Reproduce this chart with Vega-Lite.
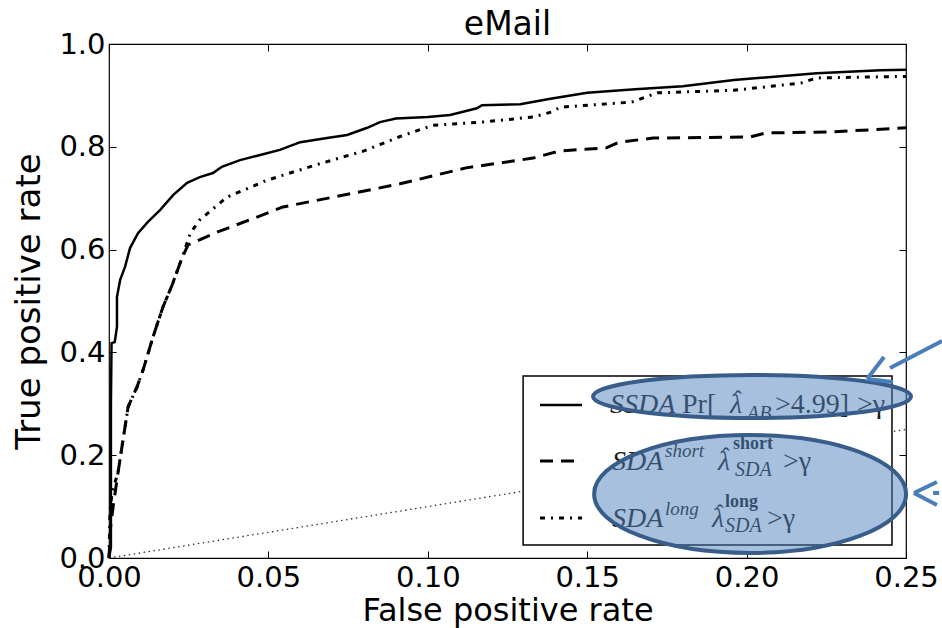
{
  "$schema": "https://vega.github.io/schema/vega-lite/v6.json",
  "width": 797,
  "height": 514,
  "autosize": "none",
  "padding": {"left": 109, "top": 44, "right": 36, "bottom": 70},
  "background": "white",
  "title": {"text": "eMail", "font": "DejaVu Sans", "fontSize": 33, "fontWeight": "normal", "color": "black", "offset": -12},
  "config": {
    "view": {"stroke": "black", "strokeWidth": 1.2},
    "axis": {
      "labelFont": "DejaVu Sans", "labelFontSize": 29, "labelColor": "black",
      "titleFont": "DejaVu Sans", "titleFontSize": 32, "titleFontWeight": "normal", "titleColor": "black",
      "grid": false, "domain": false, "tickColor": "black", "tickSize": -7, "tickWidth": 1
    }
  },
  "resolve": {"axis": {"x": "independent", "y": "independent"}},
  "datasets": {
    "roc": [
      {"series": "chance", "fpr": 0, "tpr": 0},
      {"series": "chance", "fpr": 0.25, "tpr": 0.25},
      {"series": "ssda", "fpr": 0, "tpr": 0},
      {"series": "ssda", "fpr": 0.0006, "tpr": 0.02},
      {"series": "ssda", "fpr": 0.0006, "tpr": 0.30},
      {"series": "ssda", "fpr": 0.0008, "tpr": 0.418},
      {"series": "ssda", "fpr": 0.0018, "tpr": 0.42},
      {"series": "ssda", "fpr": 0.0025, "tpr": 0.45},
      {"series": "ssda", "fpr": 0.0025, "tpr": 0.508},
      {"series": "ssda", "fpr": 0.0035, "tpr": 0.541},
      {"series": "ssda", "fpr": 0.005, "tpr": 0.566},
      {"series": "ssda", "fpr": 0.0066, "tpr": 0.603},
      {"series": "ssda", "fpr": 0.0091, "tpr": 0.632},
      {"series": "ssda", "fpr": 0.0122, "tpr": 0.654},
      {"series": "ssda", "fpr": 0.016, "tpr": 0.677},
      {"series": "ssda", "fpr": 0.0201, "tpr": 0.706},
      {"series": "ssda", "fpr": 0.0245, "tpr": 0.730},
      {"series": "ssda", "fpr": 0.0285, "tpr": 0.741},
      {"series": "ssda", "fpr": 0.0326, "tpr": 0.749},
      {"series": "ssda", "fpr": 0.0354, "tpr": 0.761},
      {"series": "ssda", "fpr": 0.0411, "tpr": 0.774},
      {"series": "ssda", "fpr": 0.0474, "tpr": 0.784},
      {"series": "ssda", "fpr": 0.0536, "tpr": 0.794},
      {"series": "ssda", "fpr": 0.060, "tpr": 0.809},
      {"series": "ssda", "fpr": 0.0684, "tpr": 0.817},
      {"series": "ssda", "fpr": 0.0747, "tpr": 0.823},
      {"series": "ssda", "fpr": 0.081, "tpr": 0.837},
      {"series": "ssda", "fpr": 0.085, "tpr": 0.848},
      {"series": "ssda", "fpr": 0.090, "tpr": 0.855},
      {"series": "ssda", "fpr": 0.100, "tpr": 0.858},
      {"series": "ssda", "fpr": 0.107, "tpr": 0.862},
      {"series": "ssda", "fpr": 0.1154, "tpr": 0.875},
      {"series": "ssda", "fpr": 0.117, "tpr": 0.881},
      {"series": "ssda", "fpr": 0.129, "tpr": 0.883},
      {"series": "ssda", "fpr": 0.138, "tpr": 0.893},
      {"series": "ssda", "fpr": 0.150, "tpr": 0.905},
      {"series": "ssda", "fpr": 0.165, "tpr": 0.912},
      {"series": "ssda", "fpr": 0.180, "tpr": 0.918},
      {"series": "ssda", "fpr": 0.196, "tpr": 0.930},
      {"series": "ssda", "fpr": 0.222, "tpr": 0.943},
      {"series": "ssda", "fpr": 0.242, "tpr": 0.949},
      {"series": "ssda", "fpr": 0.25, "tpr": 0.950},
      {"series": "short", "fpr": 0, "tpr": 0},
      {"series": "short", "fpr": 0.0005, "tpr": 0.06},
      {"series": "short", "fpr": 0.0013, "tpr": 0.10},
      {"series": "short", "fpr": 0.0028, "tpr": 0.165},
      {"series": "short", "fpr": 0.0044, "tpr": 0.23},
      {"series": "short", "fpr": 0.006, "tpr": 0.294},
      {"series": "short", "fpr": 0.0088, "tpr": 0.333},
      {"series": "short", "fpr": 0.0107, "tpr": 0.366},
      {"series": "short", "fpr": 0.0138, "tpr": 0.430},
      {"series": "short", "fpr": 0.0169, "tpr": 0.488},
      {"series": "short", "fpr": 0.0198, "tpr": 0.531},
      {"series": "short", "fpr": 0.0229, "tpr": 0.584},
      {"series": "short", "fpr": 0.0248, "tpr": 0.609},
      {"series": "short", "fpr": 0.0339, "tpr": 0.634},
      {"series": "short", "fpr": 0.0442, "tpr": 0.658},
      {"series": "short", "fpr": 0.0546, "tpr": 0.683},
      {"series": "short", "fpr": 0.0703, "tpr": 0.702},
      {"series": "short", "fpr": 0.0913, "tpr": 0.728},
      {"series": "short", "fpr": 0.112, "tpr": 0.759},
      {"series": "short", "fpr": 0.133, "tpr": 0.778},
      {"series": "short", "fpr": 0.1415, "tpr": 0.792},
      {"series": "short", "fpr": 0.156, "tpr": 0.798},
      {"series": "short", "fpr": 0.160, "tpr": 0.809},
      {"series": "short", "fpr": 0.1707, "tpr": 0.817},
      {"series": "short", "fpr": 0.201, "tpr": 0.819},
      {"series": "short", "fpr": 0.206, "tpr": 0.827},
      {"series": "short", "fpr": 0.227, "tpr": 0.829},
      {"series": "short", "fpr": 0.25, "tpr": 0.837},
      {"series": "long", "fpr": 0, "tpr": 0},
      {"series": "long", "fpr": 0.0003, "tpr": 0.09},
      {"series": "long", "fpr": 0.001, "tpr": 0.13},
      {"series": "long", "fpr": 0.0028, "tpr": 0.165},
      {"series": "long", "fpr": 0.0044, "tpr": 0.23},
      {"series": "long", "fpr": 0.006, "tpr": 0.294},
      {"series": "long", "fpr": 0.0088, "tpr": 0.333},
      {"series": "long", "fpr": 0.0107, "tpr": 0.366},
      {"series": "long", "fpr": 0.0138, "tpr": 0.430},
      {"series": "long", "fpr": 0.0169, "tpr": 0.488},
      {"series": "long", "fpr": 0.0198, "tpr": 0.531},
      {"series": "long", "fpr": 0.0229, "tpr": 0.584},
      {"series": "long", "fpr": 0.0255, "tpr": 0.632},
      {"series": "long", "fpr": 0.0285, "tpr": 0.658},
      {"series": "long", "fpr": 0.037, "tpr": 0.702},
      {"series": "long", "fpr": 0.0496, "tpr": 0.735},
      {"series": "long", "fpr": 0.065, "tpr": 0.765},
      {"series": "long", "fpr": 0.080, "tpr": 0.792},
      {"series": "long", "fpr": 0.0913, "tpr": 0.820},
      {"series": "long", "fpr": 0.1016, "tpr": 0.842},
      {"series": "long", "fpr": 0.117, "tpr": 0.848},
      {"series": "long", "fpr": 0.133, "tpr": 0.858},
      {"series": "long", "fpr": 0.139, "tpr": 0.868},
      {"series": "long", "fpr": 0.1415, "tpr": 0.877},
      {"series": "long", "fpr": 0.164, "tpr": 0.887},
      {"series": "long", "fpr": 0.172, "tpr": 0.905},
      {"series": "long", "fpr": 0.196, "tpr": 0.910},
      {"series": "long", "fpr": 0.217, "tpr": 0.924},
      {"series": "long", "fpr": 0.222, "tpr": 0.934},
      {"series": "long", "fpr": 0.25, "tpr": 0.937}
    ]
  },
  "data": {"name": "roc"},
  "layer": [
    {
      "transform": [{"filter": "datum.series === 'chance'"}],
      "mark": {"type": "line", "color": "#333", "strokeWidth": 1.3, "strokeDash": [1.5, 3.5]},
      "encoding": {
        "x": {"field": "fpr", "type": "quantitative", "scale": {"domain": [0, 0.25], "nice": false, "zero": false},
              "axis": {"orient": "bottom", "values": [0, 0.05, 0.1, 0.15, 0.2, 0.25], "format": ".2f", "labelPadding": 12, "title": "False positive rate", "titlePadding": 3, "labelFlush": false}},
        "y": {"field": "tpr", "type": "quantitative", "scale": {"domain": [0, 1], "nice": false, "zero": false},
              "axis": {"orient": "left", "values": [0, 0.2, 0.4, 0.6, 0.8, 1.0], "format": ".1f", "labelPadding": 11, "title": "True positive rate", "titleFontSize": 34, "titlePadding": 12, "labelFlush": false}}
      }
    },
    {
      "transform": [{"filter": "datum.series === 'ssda'"}],
      "mark": {"type": "line", "color": "black", "strokeWidth": 2.5},
      "encoding": {
        "x": {"field": "fpr", "type": "quantitative", "axis": {"orient": "top", "values": [0, 0.05, 0.1, 0.15, 0.2, 0.25], "labels": false, "title": null}},
        "y": {"field": "tpr", "type": "quantitative", "axis": {"orient": "right", "values": [0, 0.2, 0.4, 0.6, 0.8, 1.0], "labels": false, "title": null}}
      }
    },
    {
      "transform": [{"filter": "datum.series === 'short'"}],
      "mark": {"type": "line", "color": "black", "strokeWidth": 3, "strokeDash": [13, 8]},
      "encoding": {
        "x": {"field": "fpr", "type": "quantitative", "axis": null},
        "y": {"field": "tpr", "type": "quantitative", "axis": null}
      }
    },
    {
      "transform": [{"filter": "datum.series === 'long'"}],
      "mark": {"type": "line", "color": "black", "strokeWidth": 3, "strokeDash": [5, 6, 2, 6]},
      "encoding": {
        "x": {"field": "fpr", "type": "quantitative", "axis": null},
        "y": {"field": "tpr", "type": "quantitative", "axis": null}
      }
    },
    {
      "data": {"values": [{}]},
      "mark": {"type": "rect", "fill": "white", "stroke": "black", "strokeWidth": 1.5},
      "encoding": {
        "x": {"datum": 0.1299, "type": "quantitative", "axis": null}, "x2": {"datum": 0.2456},
        "y": {"datum": 0.354, "type": "quantitative", "axis": null}, "y2": {"datum": 0.0253}
      }
    },
    {
      "data": {"values": [{}]},
      "mark": {"type": "rule", "color": "black", "strokeWidth": 2.5},
      "encoding": {
        "x": {"datum": 0.1352, "type": "quantitative", "axis": null}, "x2": {"datum": 0.1484},
        "y": {"datum": 0.2977, "type": "quantitative", "axis": null}
      }
    },
    {
      "data": {"values": [{}]},
      "mark": {"type": "rule", "color": "black", "strokeWidth": 3, "strokeDash": [13, 8]},
      "encoding": {
        "x": {"datum": 0.1352, "type": "quantitative", "axis": null}, "x2": {"datum": 0.1484},
        "y": {"datum": 0.1887, "type": "quantitative", "axis": null}
      }
    },
    {
      "data": {"values": [{}]},
      "mark": {"type": "rule", "color": "black", "strokeWidth": 3, "strokeDash": [5, 6, 2, 6]},
      "encoding": {
        "x": {"datum": 0.1352, "type": "quantitative", "axis": null}, "x2": {"datum": 0.1484},
        "y": {"datum": 0.0778, "type": "quantitative", "axis": null}
      }
    },
    {"data": {"values": [{}]}, "mark": {"type": "text", "text": "SSDA", "font": "Liberation Serif", "fontStyle": "italic", "fontSize": 28, "align": "left", "baseline": "alphabetic", "color": "#1a1a1a"},
     "encoding": {"x": {"datum": 0.15715, "type": "quantitative", "axis": null}, "y": {"datum": 0.2821, "type": "quantitative", "axis": null}}},
    {"data": {"values": [{}]}, "mark": {"type": "text", "text": "Pr[", "font": "Liberation Serif", "fontSize": 28, "align": "left", "baseline": "alphabetic", "color": "#1a1a1a"},
     "encoding": {"x": {"datum": 0.17974, "type": "quantitative", "axis": null}, "y": {"datum": 0.2821, "type": "quantitative", "axis": null}}},
    {"data": {"values": [{}]}, "mark": {"type": "text", "text": "λ", "font": "Liberation Serif", "fontStyle": "italic", "fontSize": 28, "align": "left", "baseline": "alphabetic", "color": "#1a1a1a"},
     "encoding": {"x": {"datum": 0.19479, "type": "quantitative", "axis": null}, "y": {"datum": 0.2821, "type": "quantitative", "axis": null}}},
    {"data": {"values": [{}]}, "mark": {"type": "text", "text": "ˆ", "font": "Liberation Serif", "fontSize": 24, "align": "center", "baseline": "alphabetic", "color": "#1a1a1a"},
     "encoding": {"x": {"datum": 0.19730, "type": "quantitative", "axis": null}, "y": {"datum": 0.2938, "type": "quantitative", "axis": null}}},
    {"data": {"values": [{}]}, "mark": {"type": "text", "text": "AB", "font": "Liberation Serif", "fontStyle": "italic", "fontSize": 20, "align": "left", "baseline": "alphabetic", "color": "#1a1a1a"},
     "encoding": {"x": {"datum": 0.20013, "type": "quantitative", "axis": null}, "y": {"datum": 0.2685, "type": "quantitative", "axis": null}}},
    {"data": {"values": [{}]}, "mark": {"type": "text", "text": ">4.99]", "font": "Liberation Serif", "fontSize": 28, "align": "left", "baseline": "alphabetic", "color": "#1a1a1a"},
     "encoding": {"x": {"datum": 0.20891, "type": "quantitative", "axis": null}, "y": {"datum": 0.2821, "type": "quantitative", "axis": null}}},
    {"data": {"values": [{}]}, "mark": {"type": "text", "text": ">γ", "font": "Liberation Serif", "fontSize": 28, "align": "left", "baseline": "alphabetic", "color": "#1a1a1a"},
     "encoding": {"x": {"datum": 0.23463, "type": "quantitative", "axis": null}, "y": {"datum": 0.2821, "type": "quantitative", "axis": null}}},
    {"data": {"values": [{}]}, "mark": {"type": "text", "text": "SDA", "font": "Liberation Serif", "fontStyle": "italic", "fontSize": 28, "align": "left", "baseline": "alphabetic", "color": "#1a1a1a"},
     "encoding": {"x": {"datum": 0.15778, "type": "quantitative", "axis": null}, "y": {"datum": 0.17121, "type": "quantitative", "axis": null}}},
    {"data": {"values": [{}]}, "mark": {"type": "text", "text": "short", "font": "Liberation Serif", "fontStyle": "italic", "fontSize": 19, "align": "left", "baseline": "alphabetic", "color": "#1a1a1a"},
     "encoding": {"x": {"datum": 0.1744, "type": "quantitative", "axis": null}, "y": {"datum": 0.1965, "type": "quantitative", "axis": null}}},
    {"data": {"values": [{}]}, "mark": {"type": "text", "text": "λ", "font": "Liberation Serif", "fontStyle": "italic", "fontSize": 28, "align": "left", "baseline": "alphabetic", "color": "#1a1a1a"},
     "encoding": {"x": {"datum": 0.19102, "type": "quantitative", "axis": null}, "y": {"datum": 0.17121, "type": "quantitative", "axis": null}}},
    {"data": {"values": [{}]}, "mark": {"type": "text", "text": "ˆ", "font": "Liberation Serif", "fontSize": 24, "align": "center", "baseline": "alphabetic", "color": "#1a1a1a"},
     "encoding": {"x": {"datum": 0.19353, "type": "quantitative", "axis": null}, "y": {"datum": 0.1829, "type": "quantitative", "axis": null}}},
    {"data": {"values": [{}]}, "mark": {"type": "text", "text": "short", "font": "Liberation Serif", "fontWeight": "bold", "fontSize": 18, "align": "left", "baseline": "alphabetic", "color": "#1a1a1a"},
     "encoding": {"x": {"datum": 0.19573, "type": "quantitative", "axis": null}, "y": {"datum": 0.21206, "type": "quantitative", "axis": null}}},
    {"data": {"values": [{}]}, "mark": {"type": "text", "text": "SDA", "font": "Liberation Serif", "fontStyle": "italic", "fontSize": 20, "align": "left", "baseline": "alphabetic", "color": "#1a1a1a"},
     "encoding": {"x": {"datum": 0.19636, "type": "quantitative", "axis": null}, "y": {"datum": 0.15953, "type": "quantitative", "axis": null}}},
    {"data": {"values": [{}]}, "mark": {"type": "text", "text": ">γ", "font": "Liberation Serif", "fontSize": 28, "align": "left", "baseline": "alphabetic", "color": "#1a1a1a"},
     "encoding": {"x": {"datum": 0.21142, "type": "quantitative", "axis": null}, "y": {"datum": 0.17121, "type": "quantitative", "axis": null}}},
    {"data": {"values": [{}]}, "mark": {"type": "text", "text": "SDA", "font": "Liberation Serif", "fontStyle": "italic", "fontSize": 28, "align": "left", "baseline": "alphabetic", "color": "#1a1a1a"},
     "encoding": {"x": {"datum": 0.15778, "type": "quantitative", "axis": null}, "y": {"datum": 0.06031, "type": "quantitative", "axis": null}}},
    {"data": {"values": [{}]}, "mark": {"type": "text", "text": "long", "font": "Liberation Serif", "fontStyle": "italic", "fontSize": 19, "align": "left", "baseline": "alphabetic", "color": "#1a1a1a"},
     "encoding": {"x": {"datum": 0.1744, "type": "quantitative", "axis": null}, "y": {"datum": 0.08366, "type": "quantitative", "axis": null}}},
    {"data": {"values": [{}]}, "mark": {"type": "text", "text": "λ", "font": "Liberation Serif", "fontStyle": "italic", "fontSize": 28, "align": "left", "baseline": "alphabetic", "color": "#1a1a1a"},
     "encoding": {"x": {"datum": 0.18915, "type": "quantitative", "axis": null}, "y": {"datum": 0.06031, "type": "quantitative", "axis": null}}},
    {"data": {"values": [{}]}, "mark": {"type": "text", "text": "ˆ", "font": "Liberation Serif", "fontSize": 24, "align": "center", "baseline": "alphabetic", "color": "#1a1a1a"},
     "encoding": {"x": {"datum": 0.19166, "type": "quantitative", "axis": null}, "y": {"datum": 0.072, "type": "quantitative", "axis": null}}},
    {"data": {"values": [{}]}, "mark": {"type": "text", "text": "long", "font": "Liberation Serif", "fontWeight": "bold", "fontSize": 18, "align": "left", "baseline": "alphabetic", "color": "#1a1a1a"},
     "encoding": {"x": {"datum": 0.19322, "type": "quantitative", "axis": null}, "y": {"datum": 0.09922, "type": "quantitative", "axis": null}}},
    {"data": {"values": [{}]}, "mark": {"type": "text", "text": "SDA", "font": "Liberation Serif", "fontStyle": "italic", "fontSize": 20, "align": "left", "baseline": "alphabetic", "color": "#1a1a1a"},
     "encoding": {"x": {"datum": 0.19322, "type": "quantitative", "axis": null}, "y": {"datum": 0.05058, "type": "quantitative", "axis": null}}},
    {"data": {"values": [{}]}, "mark": {"type": "text", "text": ">γ", "font": "Liberation Serif", "fontSize": 28, "align": "left", "baseline": "alphabetic", "color": "#1a1a1a"},
     "encoding": {"x": {"datum": 0.2064, "type": "quantitative", "axis": null}, "y": {"datum": 0.06031, "type": "quantitative", "axis": null}}},
    {
      "data": {"values": [{}]},
      "mark": {"type": "point", "shape": "M 1 0 C 1 0.0746 0.5523 0.135 0 0.135 C -0.5523 0.135 -1 0.0746 -1 0 C -1 -0.0746 -0.5523 -0.135 0 -0.135 C 0.5523 -0.135 1 -0.0746 1 0 Z",
               "size": 101124, "filled": true, "fill": "#4f81bd", "fillOpacity": 0.5, "stroke": "#385d8a", "strokeWidth": 4, "strokeOpacity": 1, "opacity": 1},
      "encoding": {"x": {"datum": 0.2017, "type": "quantitative", "axis": null}, "y": {"datum": 0.3142, "type": "quantitative", "axis": null}}
    },
    {
      "data": {"values": [{}]},
      "mark": {"type": "point", "shape": "M 1 0 C 1 0.2088 0.5523 0.378 0 0.378 C -0.5523 0.378 -1 0.2088 -1 0 C -1 -0.2088 -0.5523 -0.378 0 -0.378 C 0.5523 -0.378 1 -0.2088 1 0 Z",
               "size": 97344, "filled": true, "fill": "#4f81bd", "fillOpacity": 0.5, "stroke": "#385d8a", "strokeWidth": 4, "strokeOpacity": 1, "opacity": 1},
      "encoding": {"x": {"datum": 0.2011, "type": "quantitative", "axis": null}, "y": {"datum": 0.1245, "type": "quantitative", "axis": null}}
    },
    {
      "data": {"values": [{}]},
      "mark": {"type": "rule", "color": "#4a7ebb", "strokeWidth": 4},
      "encoding": {"x": {"datum": 0.2613, "type": "quantitative", "axis": null}, "y": {"datum": 0.4222, "type": "quantitative", "axis": null}, "x2": {"datum": 0.245}, "y2": {"datum": 0.3696}}
    },
    {
      "data": {"values": [{}]},
      "mark": {"type": "rule", "color": "#4a7ebb", "strokeWidth": 4},
      "encoding": {"x": {"datum": 0.2378, "type": "quantitative", "axis": null}, "y": {"datum": 0.3482, "type": "quantitative", "axis": null}, "x2": {"datum": 0.2431}, "y2": {"datum": 0.3911}}
    },
    {
      "data": {"values": [{}]},
      "mark": {"type": "rule", "color": "#4a7ebb", "strokeWidth": 4},
      "encoding": {"x": {"datum": 0.2378, "type": "quantitative", "axis": null}, "y": {"datum": 0.3482, "type": "quantitative", "axis": null}, "x2": {"datum": 0.2459}, "y2": {"datum": 0.3424}}
    },
    {
      "data": {"values": [{}]},
      "mark": {"type": "rule", "color": "#4a7ebb", "strokeWidth": 4},
      "encoding": {"x": {"datum": 0.2525, "type": "quantitative", "axis": null}, "y": {"datum": 0.1265, "type": "quantitative", "axis": null}, "x2": {"datum": 0.2597}, "y2": {"datum": 0.1479}}
    },
    {
      "data": {"values": [{}]},
      "mark": {"type": "rule", "color": "#4a7ebb", "strokeWidth": 4},
      "encoding": {"x": {"datum": 0.2525, "type": "quantitative", "axis": null}, "y": {"datum": 0.1265, "type": "quantitative", "axis": null}, "x2": {"datum": 0.2597}, "y2": {"datum": 0.1031}}
    },
    {
      "data": {"values": [{}]},
      "mark": {"type": "rule", "color": "#4a7ebb", "strokeWidth": 4, "strokeDash": [6, 3]},
      "encoding": {"x": {"datum": 0.2585, "type": "quantitative", "axis": null}, "y": {"datum": 0.1265, "type": "quantitative", "axis": null}, "x2": {"datum": 0.2613}, "y2": {"datum": 0.1265}}
    }
  ]
}
